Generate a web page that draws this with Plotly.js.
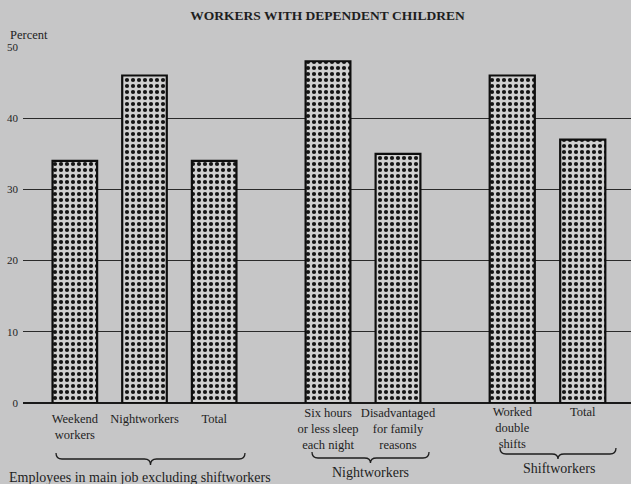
<!DOCTYPE html>
<html><head><meta charset="utf-8">
<script src="https://cdn.plot.ly/plotly-3.0.1.min.js"></script>
<style>html,body{margin:0;padding:0;background:#c6c6c7;}#chart{width:631px;height:484px;}</style>
</head><body><div id="chart"></div>
<script>
// Data
const groupNames = ["Employees in main job excluding shiftworkers", "Nightworkers", "Shiftworkers"];
const cats1 = ["Weekend<br>workers", "Nightworkers", "Total"];
const vals1 = [34, 46, 34];
const cats2 = ["Six hours<br>or less sleep<br>each night", "Disadvantaged<br>for family<br>reasons"];
const vals2 = [48, 35];
const cats3 = ["Worked<br>double<br>shifts", "Total"];
const vals3 = [46, 37];
const yTicks = [0, 10, 20, 30, 40, 50];

const W = 631, H = 484;
const M = {l: 23, r: 0, t: 47, b: 81};
const PW = W - M.l - M.r, PH = H - M.t - M.b;
const px = x => (x - M.l) / PW;      // pixel x -> paper
const py = y => (H - M.b - y) / PH;  // pixel y -> paper

const serif = "Liberation Serif, Times New Roman, serif";
const ink = "#1e1e1e";
const bg = "#c6c6c7";

function barTrace(cats, vals, xa) {
  return {
    type: "bar", x: cats, y: vals, xaxis: xa, yaxis: "y",
    marker: {
      color: "#cfcfcf",
      line: {color: "#0e0e0e", width: 2.2},
      pattern: {shape: ".", fgcolor: "#151515", bgcolor: "#d0d0d0", size: 6, solidity: 0.38}
    },
    hoverinfo: "x+y", showlegend: false
  };
}

const traces = [
  {type: "scatter", x: [0, 1], y: [null, null], xaxis: "x", yaxis: "y", showlegend: false, hoverinfo: "skip"},
  barTrace(cats1, vals1, "x2"),
  barTrace(cats2, vals2, "x3"),
  barTrace(cats3, vals3, "x4")
];

function catAxis(domain, standoff) {
  return {
    domain: domain, anchor: "y", type: "category",
    showgrid: false, zeroline: false, showline: false, ticks: "",
    tickangle: 0, automargin: false,
    ticklabelstandoff: standoff,
    tickfont: {family: serif, size: 12.5, color: ink}
  };
}

// brace path in pixel space converted to paper coords
function brace(x0, x1, yTop, yMid, yTip) {
  const xc = (x0 + x1) / 2, d = 6;
  const P = (x, y) => px(x).toFixed(4) + "," + py(y).toFixed(4);
  return "M" + P(x0, yTop) + " Q" + P(x0, yMid) + " " + P(x0 + d, yMid) +
    " L" + P(xc - d, yMid) + " Q" + P(xc, yMid) + " " + P(xc, yTip) +
    " Q" + P(xc, yMid) + " " + P(xc + d, yMid) +
    " L" + P(x1 - d, yMid) + " Q" + P(x1, yMid) + " " + P(x1, yTop);
}

const shapes = [
  {type: "path", xref: "paper", yref: "paper", path: brace(56, 245, 453, 459, 465), line: {color: ink, width: 1.3}},
  {type: "path", xref: "paper", yref: "paper", path: brace(312, 429, 452, 458, 463), line: {color: ink, width: 1.3}},
  {type: "path", xref: "paper", yref: "paper", path: brace(500, 616, 448, 454, 459), line: {color: ink, width: 1.3}}
];

const annotations = [
  {text: "Percent", xref: "paper", yref: "paper", x: px(8), y: py(35), xanchor: "left", yanchor: "middle",
   showarrow: false, font: {family: serif, size: 12.5, color: ink}},
  {text: groupNames[0], xref: "paper", yref: "paper", x: px(140), y: py(477), xanchor: "center", yanchor: "middle",
   showarrow: false, font: {family: serif, size: 14, color: ink}},
  {text: groupNames[1], xref: "paper", yref: "paper", x: px(370), y: py(472), xanchor: "center", yanchor: "middle",
   showarrow: false, font: {family: serif, size: 14, color: ink}},
  {text: groupNames[2], xref: "paper", yref: "paper", x: px(559), y: py(468), xanchor: "center", yanchor: "middle",
   showarrow: false, font: {family: serif, size: 14, color: ink}}
];

const layout = {
  width: W, height: H,
  margin: M,
  paper_bgcolor: bg, plot_bgcolor: bg,
  title: {text: "<b>WORKERS WITH DEPENDENT CHILDREN</b>", x: 0.519, xanchor: "center", y: 0.969, yanchor: "middle",
          font: {family: serif, size: 13.5, color: ink}},
  bargap: 0.36,
  xaxis: {domain: [0, 1], anchor: "y", range: [0, 1], visible: false, fixedrange: true},
  xaxis2: catAxis([px(40), px(249)], 6),
  xaxis3: catAxis([px(293), px(433)], 0),
  xaxis4: catAxis([px(477), px(618)], -1),
  yaxis: {
    range: [0, 50], tickvals: yTicks, ticktext: yTicks.map(String),
    showgrid: true, gridcolor: "#2a2a2a", gridwidth: 1.2,
    zeroline: true, zerolinecolor: "#1a1a1a", zerolinewidth: 1.4,
    showline: false, ticks: "", ticklabelstandoff: 4,
    tickfont: {family: serif, size: 11, color: ink}
  },
  shapes: shapes,
  annotations: annotations
};

Plotly.newPlot("chart", traces, layout, {displayModeBar: false, staticPlot: true});
</script>
</body></html>
